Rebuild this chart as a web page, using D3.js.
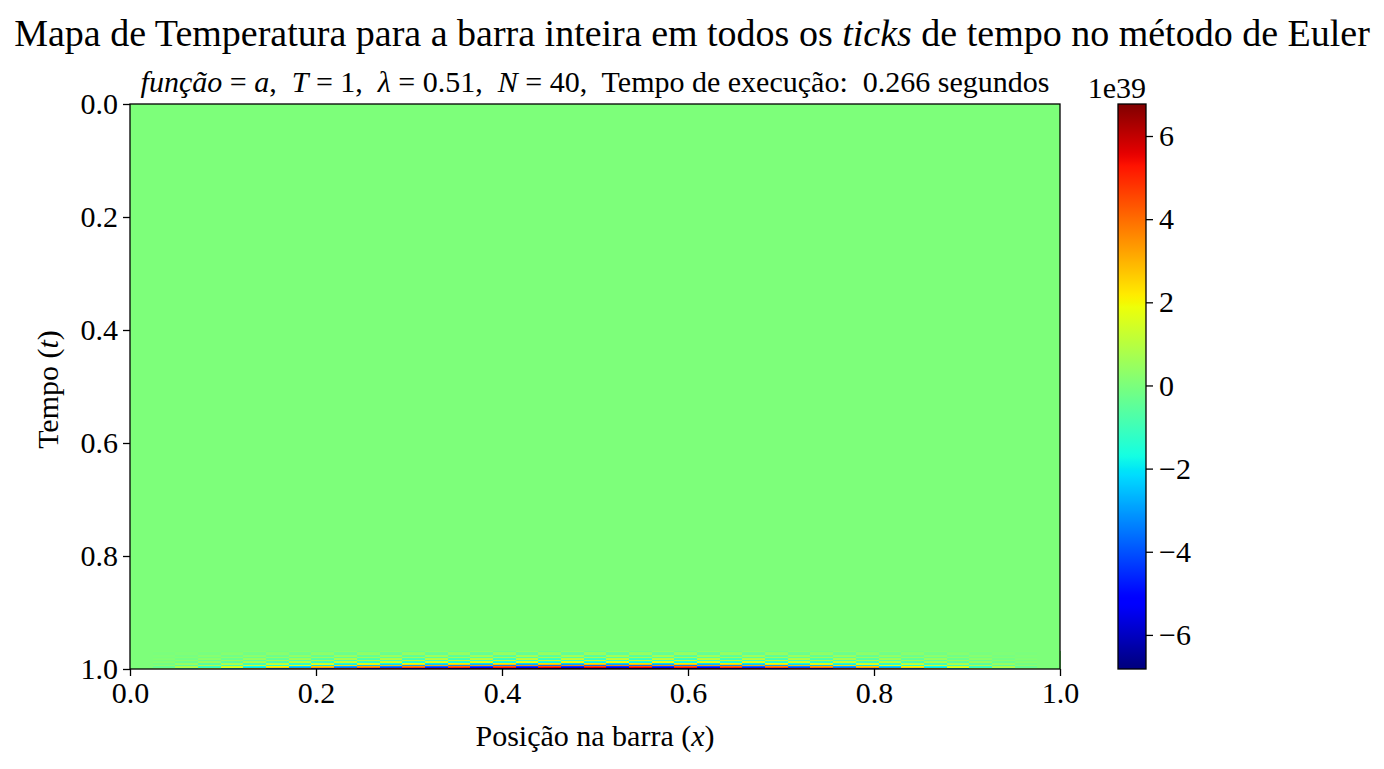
<!DOCTYPE html>
<html><head><meta charset="utf-8">
<script src="https://cdn.jsdelivr.net/npm/d3@7"></script>
<style>
body{margin:0;background:#fff}
svg{display:block}
text{font-family:"Liberation Serif","Times New Roman",serif;fill:#000}
</style>
</head><body>
<svg id="c" width="1384" height="769"></svg>
<script>
// ---- data (values in units of 1e39) ----
const xTicks = [0.0, 0.2, 0.4, 0.6, 0.8, 1.0];
const yTicks = [0.0, 0.2, 0.4, 0.6, 0.8, 1.0];
const cbTicks = [-6, -4, -2, 0, 2, 4, 6];
const cbDomain = [-6.82, 6.77];
const backgroundValue = 0;        // whole bar before the blow-up
const blowupStart = 0.96814;      // time where the visible oscillation starts
// spatial shape of the oscillation, one value per grid column (N = 40 -> 41 points)
const colShape = [0, 0.08, -0.16, 0.23, -0.31, 0.38, -0.45, 0.52, -0.59, 0.65, -0.71,
  0.76, -0.81, 0.85, -0.89, 0.92, -0.95, 0.97, -0.99, 1.0, -1.0, 1.0, -0.99, 0.97,
  -0.95, 0.92, -0.89, 0.85, -0.81, 0.76, -0.71, 0.65, -0.59, 0.52, -0.45, 0.38,
  -0.31, 0.23, -0.16, 0.08, 0];
// time rows at the bottom of the map (start time of each row) and their amplitudes
const rowStart = [0.96814, 0.96991, 0.97168, 0.97345, 0.97522, 0.97699, 0.97876, 0.98053,
  0.98230, 0.98407, 0.98584, 0.98761, 0.98938, 0.99115, 0.99292, 0.99469, 0.99646, 0.99823];
const rowAmp = [0.38, -0.4, -0.45, -0.5, 0.6, 0.7, -0.8, 0.95, 1.1, -1.3,
  1.6, 1.9, -2.3, -2.9, 3.6, -4.4, -5.5, 6.8];
const tEnd = 1.0;

// ---- jet colormap (matplotlib segment data) ----
const jetSeg = {
  r: [[0,0],[0.35,0],[0.66,1],[0.89,1],[1,0.5]],
  g: [[0,0],[0.125,0],[0.375,1],[0.64,1],[0.91,0],[1,0]],
  b: [[0,0.5],[0.11,1],[0.34,1],[0.65,0],[1,0]]
};
function segInterp(seg, t){
  t = Math.max(0, Math.min(1, t));
  for (let i = 1; i < seg.length; i++){
    if (t <= seg[i][0]){
      const [x0,y0] = seg[i-1], [x1,y1] = seg[i];
      return y0 + (y1-y0)*(t-x0)/(x1-x0);
    }
  }
  return seg[seg.length-1][1];
}
function jet(t){
  t = Math.floor(Math.max(0,Math.min(1,t))*255.999)/255;
  return d3.rgb(segInterp(jetSeg.r,t)*255, segInterp(jetSeg.g,t)*255, segInterp(jetSeg.b,t)*255).formatHex();
}
const color = d3.scaleSequential(jet).domain(cbDomain);

// ---- layout ----
const svg = d3.select("#c");
const L = 130, R = 1060, T = 104, B = 669;
const FS = 30;
const x = d3.scaleLinear([0,1],[L,R]);
const y = d3.scaleLinear([0,1],[T,B]);
const cols = d3.range(colShape.length);
const xb = d3.scaleBand(cols,[L,R]);

// cells
const g = svg.append("g").attr("shape-rendering","crispEdges");
g.append("rect").attr("x",L).attr("y",y(0)).attr("width",R-L).attr("height",y(blowupStart)-y(0))
  .attr("fill",color(backgroundValue));
const cells = [];
rowStart.forEach((t0,r)=>{
  const t1 = r+1 < rowStart.length ? rowStart[r+1] : tEnd;
  cols.forEach(j=>cells.push({t0,t1,j,v:rowAmp[r]*colShape[j]}));
});
g.selectAll("rect.cell").data(cells).join("rect").attr("class","cell")
  .attr("x",d=>xb(d.j)).attr("width",xb.bandwidth()+0.5)
  .attr("y",d=>y(d.t0)).attr("height",d=>y(d.t1)-y(d.t0)+0.3)
  .attr("fill",d=>color(d.v));

// frame
svg.append("rect").attr("x",L).attr("y",T).attr("width",R-L).attr("height",B-T)
  .attr("fill","none").attr("stroke","#000").attr("stroke-width",1.3);

// axes
const fmt = d3.format(".1f");
const ax = svg.append("g").attr("transform",`translate(0,${B})`)
  .call(d3.axisBottom(x).tickValues(xTicks).tickFormat(fmt).tickSize(7).tickPadding(6).tickSizeOuter(0));
const ay = svg.append("g").attr("transform",`translate(${L},0)`)
  .call(d3.axisLeft(y).tickValues(yTicks).tickFormat(fmt).tickSize(7).tickPadding(5).tickSizeOuter(0));
[ax,ay].forEach(a=>{
  a.select(".domain").remove();
  a.selectAll("line").attr("stroke","#000").attr("stroke-width",1.3);
  a.selectAll("text").attr("font-size",FS).attr("font-family","Liberation Serif").attr("fill","#000");
});

// colorbar
const cbL = 1118, cbR = 1146;
const cbY = d3.scaleLinear(cbDomain,[B,T]);
const defs = svg.append("defs");
const grad = defs.append("linearGradient").attr("id","cbg").attr("x1",0).attr("y1",1).attr("x2",0).attr("y2",0);
d3.range(0,1.0001,1/128).forEach(f=>grad.append("stop").attr("offset",f).attr("stop-color",jet(f)));
svg.append("rect").attr("x",cbL).attr("y",T).attr("width",cbR-cbL).attr("height",B-T)
  .attr("fill","url(#cbg)").attr("stroke","#000").attr("stroke-width",1.3);
const acb = svg.append("g").attr("transform",`translate(${cbR},0)`)
  .call(d3.axisRight(cbY).tickValues(cbTicks).tickFormat(d3.format("d")).tickSize(7).tickPadding(6).tickSizeOuter(0));
acb.select(".domain").remove();
acb.selectAll("line").attr("stroke","#000").attr("stroke-width",1.3);
acb.selectAll("text").attr("font-size",FS).attr("font-family","Liberation Serif").attr("fill","#000");
svg.append("text").attr("x",cbR).attr("y",98).attr("text-anchor","end").attr("font-size",FS).text("1e39");

// titles
const t1 = svg.append("text").attr("x",692).attr("y",46).attr("text-anchor","middle").attr("font-size",38);
t1.append("tspan").text("Mapa de Temperatura para a barra inteira em todos os ");
t1.append("tspan").attr("font-style","italic").text("ticks");
t1.append("tspan").text(" de tempo no método de Euler");

const st = svg.append("text").attr("x",(L+R)/2).attr("y",92).attr("text-anchor","middle").attr("font-size",FS)
  .attr("style","white-space:pre");
const parts = [["função","i"],[" = ","n"],["a","i"],[",  ","n"],["T","i"],[" = 1,  ","n"],["λ","i"],[" = 0.51,  ","n"],["N","i"],[" = 40,  Tempo de execução:  0.266 segundos","n"]];
parts.forEach(([s,k])=>st.append("tspan").attr("font-style",k==="i"?"italic":"normal").text(s));

const xl = svg.append("text").attr("x",(L+R)/2).attr("y",746).attr("text-anchor","middle").attr("font-size",FS);
xl.append("tspan").text("Posição na barra (");
xl.append("tspan").attr("font-style","italic").text("x");
xl.append("tspan").text(")");

const yl = svg.append("text").attr("transform",`translate(58,${(T+B)/2+3}) rotate(-90)`).attr("text-anchor","middle").attr("font-size",FS);
yl.append("tspan").text("Tempo (");
yl.append("tspan").attr("font-style","italic").text("t");
yl.append("tspan").text(")");
</script>
</body></html>
